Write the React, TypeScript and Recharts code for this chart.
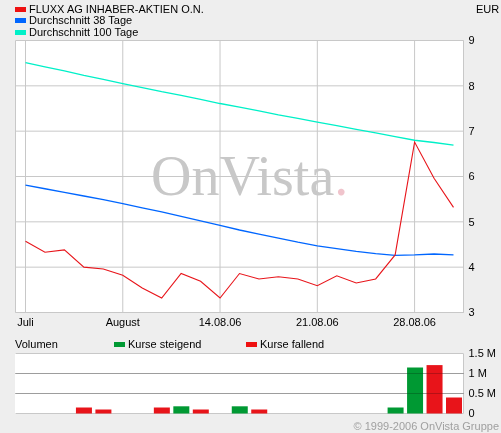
import React from "react"
import {
  Bar,
  BarChart,
  CartesianGrid,
  Cell,
  Customized,
  Line,
  LineChart,
  XAxis,
  YAxis,
} from "recharts"

const dates = [
  "31.07.06", "01.08.06", "02.08.06", "03.08.06", "04.08.06",
  "07.08.06", "08.08.06", "09.08.06", "10.08.06", "11.08.06",
  "14.08.06", "15.08.06", "16.08.06", "17.08.06", "18.08.06",
  "21.08.06", "22.08.06", "23.08.06", "24.08.06", "25.08.06",
  "28.08.06", "29.08.06", "30.08.06",
]

const kurs = [
  4.57, 4.33, 4.38, 4.0, 3.96, 3.82, 3.54, 3.32, 3.86, 3.69, 3.32, 3.86,
  3.74, 3.79, 3.74, 3.59, 3.81, 3.65, 3.74, 4.27, 6.76, 5.96, 5.32,
]

const avg38 = [
  5.81, 5.73, 5.65, 5.57, 5.49, 5.4, 5.31, 5.22, 5.12, 5.02, 4.92, 4.82,
  4.73, 4.64, 4.55, 4.47, 4.41, 4.35, 4.3, 4.26, 4.27, 4.29, 4.27,
]

const avg100 = [
  8.51, 8.42, 8.33, 8.23, 8.14, 8.05, 7.96, 7.87, 7.79, 7.7, 7.61, 7.53,
  7.45, 7.36, 7.28, 7.2, 7.12, 7.04, 6.96, 6.88, 6.8, 6.75, 6.69,
]

// Volumen in Mio. Stück
const volumen = [
  0, 0, 0, 0.15, 0.1, 0, 0, 0.15, 0.18, 0.1, 0, 0.18,
  0.1, 0, 0, 0, 0, 0, 0, 0.15, 1.15, 1.21, 0.4,
]

const xTicks = ["31.07.06", "07.08.06", "14.08.06", "21.08.06", "28.08.06"]
const xTickLabels = ["Juli", "August", "14.08.06", "21.08.06", "28.08.06"]
const priceTicks = [3, 4, 5, 6, 7, 8, 9]
const volMax = 1.5
const volTicks = [0, 0.5, 1, 1.5]
const volTickLabels = ["0", "0.5 M", "1 M", "1.5 M"]

const RED = "#e8141a"
const BLUE = "#0066ff"
const CYAN = "#00f0c8"
const GREEN = "#009933"
const GRID = "#c8c8c8"
const FONT = "'Liberation Sans', Arial, sans-serif"

// volume panel box in page px (plot area of the lower chart)
const VOL_TOP = 353
const VOL_H = 60

const priceData = dates.map((d, i) => ({
  date: d,
  kurs: kurs[i],
  avg38: avg38[i],
  avg100: avg100[i],
}))

const volData = dates.map((d, i) => ({
  date: d,
  vol: volumen[i],
  up: i > 0 && kurs[i] > kurs[i - 1],
}))

const tickStyle = { fontSize: 11, fill: "#000", fontFamily: FONT }

// plain svg text, so "1.5 M" does not wrap in the narrow axis
function RightTick(props: any) {
  const { x, y, payload, labels, values } = props
  const label = labels ? labels[values.indexOf(payload.value)] : String(payload.value)
  return (
    <text x={x} y={y} dy="0.355em" fontSize={11} fontFamily={FONT} fill="#000" textAnchor="start">
      {label}
    </text>
  )
}

function Swatch({ color, x, y }: { color: string; x: number; y: number }) {
  return (
    <div style={{ position: "absolute", left: x, top: y, width: 11, height: 5, background: color }} />
  )
}

function Label({ x, y, children, color = "#000" }: { x: number; y: number; children: React.ReactNode; color?: string }) {
  return (
    <div style={{ position: "absolute", left: x, top: y, fontSize: 11, lineHeight: "12px", color, whiteSpace: "nowrap" }}>
      {children}
    </div>
  )
}

function Watermark() {
  return (
    <text x={151} y={195} fontFamily="'Liberation Serif', 'DejaVu Serif', serif" fontSize={56} fill="#c8c8c8">
      OnVista<tspan fill="#f0c4cc">.</tspan>
    </text>
  )
}

export default function App() {
  return (
    <div
      style={{
        position: "absolute",
        left: 0,
        top: 0,
        width: 501,
        height: 433,
        background: "#eeeeee",
        fontFamily: FONT,
        overflow: "hidden",
      }}
    >
      <Swatch color="#ee1111" x={15} y={7} />
      <Label x={29} y={3}>FLUXX AG INHABER-AKTIEN O.N.</Label>
      <Swatch color={BLUE} x={15} y={18} />
      <Label x={29} y={14}>Durchschnitt 38 Tage</Label>
      <Swatch color={CYAN} x={15} y={30} />
      <Label x={29} y={26}>Durchschnitt 100 Tage</Label>
      <Label x={476} y={3}>EUR</Label>

      <div style={{ position: "absolute", left: 0, top: 0 }}>
        <LineChart
          width={501}
          height={333}
          data={priceData}
          margin={{ top: 40.5, right: 0, bottom: 0.5, left: 15.5 }}
        >
          <CartesianGrid yAxisId="r" stroke={GRID} fill="#ffffff" />
          <XAxis
            dataKey="date"
            ticks={xTicks}
            interval={0}
            tickFormatter={(v: string) => xTickLabels[xTicks.indexOf(v)] ?? ""}
            padding={{ left: 10, right: 10 }}
            tickLine={false}
            tickSize={0}
            tickMargin={6}
            height={20}
            axisLine={{ stroke: GRID }}
            tick={tickStyle}
          />
          <YAxis yAxisId="l" orientation="left" width={0} domain={[3, 9]} tick={false} tickLine={false} axisLine={{ stroke: GRID }} />
          <YAxis
            yAxisId="r"
            orientation="right"
            width={37.5}
            domain={[3, 9]}
            ticks={priceTicks}
            interval={0}
            tickLine={false}
            tickSize={0}
            tickMargin={5}
            axisLine={{ stroke: GRID }}
            tick={<RightTick />}
          />
          <Customized component={Watermark} />
          <Line yAxisId="r" type="linear" dataKey="avg100" stroke={CYAN} strokeWidth={1.3} dot={false} isAnimationActive={false} />
          <Line yAxisId="r" type="linear" dataKey="avg38" stroke={BLUE} strokeWidth={1.3} dot={false} isAnimationActive={false} />
          <Line yAxisId="r" type="linear" dataKey="kurs" stroke={RED} strokeWidth={1.1} dot={false} isAnimationActive={false} />
        </LineChart>
      </div>

      <Label x={15} y={338}>Volumen</Label>
      <Swatch color={GREEN} x={114} y={342} />
      <Label x={128} y={338}>Kurse steigend</Label>
      <Swatch color="#ee1111" x={246} y={342} />
      <Label x={260} y={338}>Kurse fallend</Label>

      <div style={{ position: "absolute", left: 15, top: VOL_TOP, width: 449, height: VOL_H + 1, background: "#ffffff" }} />

      <div style={{ position: "absolute", left: 0, top: 340 }}>
        <BarChart
          width={501}
          height={80}
          data={volData}
          margin={{ top: 13.5, right: 0, bottom: 6.5, left: 15.5 }}
          barCategoryGap={0}
        >
          <CartesianGrid yAxisId="r" stroke={GRID} fill="none" syncWithTicks />
          <XAxis dataKey="date" ticks={xTicks} interval={0} height={0} tick={false} tickLine={false} axisLine={{ stroke: GRID }} />
          <YAxis yAxisId="l" orientation="left" width={0} domain={[0, volMax]} tick={false} tickLine={false} axisLine={{ stroke: GRID }} />
          <YAxis
            yAxisId="r"
            orientation="right"
            width={37.5}
            domain={[0, volMax]}
            ticks={volTicks}
            interval={0}
            tickLine={false}
            tickSize={0}
            tickMargin={5}
            axisLine={{ stroke: GRID }}
            tick={<RightTick labels={volTickLabels} values={volTicks} />}
          />
          <Bar yAxisId="r" dataKey="vol" barSize={16} isAnimationActive={false}>
            {volData.map((d) => (
              <Cell key={d.date} fill={d.up ? GREEN : "#e8141a"} />
            ))}
          </Bar>
        </BarChart>
      </div>

      {/* inner horizontal grid lines of the volume panel, laid over the chart */}
      {volTicks
        .filter((t) => t > 0 && t < volMax)
        .map((t) => (
          <div
            key={t}
            style={{
              position: "absolute",
              zIndex: 5,
              left: 15,
              width: 449,
              top: VOL_TOP + Math.round(VOL_H * (1 - t / volMax)),
              height: 1,
              background: GRID,
              mixBlendMode: "multiply",
              pointerEvents: "none",
            }}
          />
        ))}

      <div
        style={{
          position: "absolute",
          right: 2,
          top: 420,
          fontSize: 11,
          lineHeight: "12px",
          color: "#a0a0a0",
          whiteSpace: "nowrap",
        }}
      >
        © 1999-2006 OnVista Gruppe
      </div>
    </div>
  )
}
